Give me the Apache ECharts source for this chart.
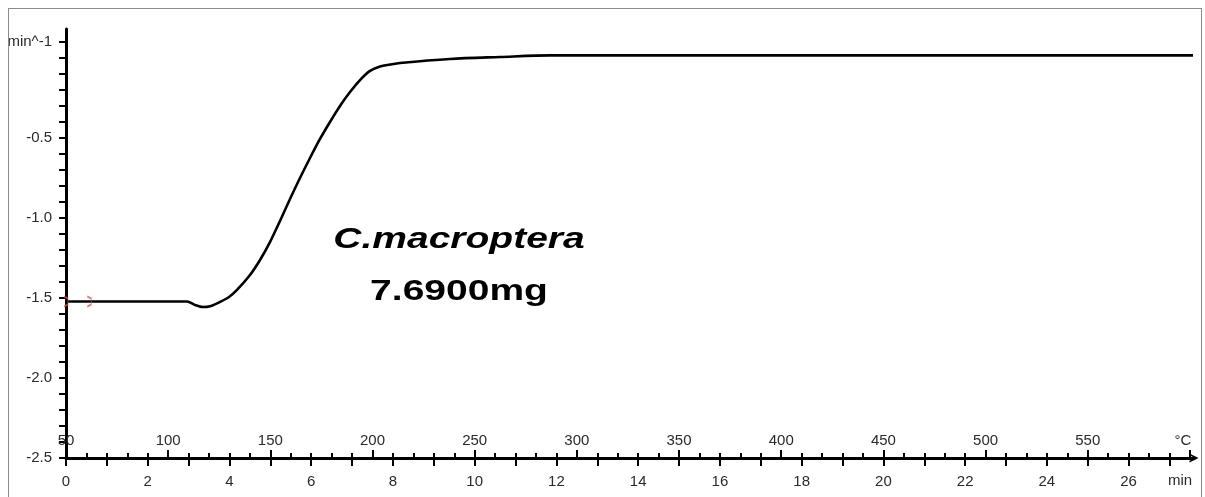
<!DOCTYPE html>
<html>
<head>
<meta charset="utf-8">
<script src="https://cdn.jsdelivr.net/npm/echarts@6/dist/echarts.min.js"></script>
<style>
  html, body { margin: 0; padding: 0; background: #fff; }
  #frame {
    position: absolute; left: 8px; top: 8px;
    width: 1192px; height: 500px;
    border: 1px solid #8c8c8c; overflow: hidden; background: #fff;
  }
  #chart { width: 1192px; height: 489px; }
</style>
</head>
<body>
<div id="frame"><div id="chart"></div></div>
<script>
// Time in minutes and the measured rate (min^-1) along the curve
const timeMin = [0, 2.96, 3.156, 3.352, 3.548, 3.768, 3.988, 4.184, 4.502, 4.747, 4.991, 5.236, 5.481, 5.725, 5.970, 6.215, 6.459, 6.704, 6.949, 7.194, 7.438, 7.683, 7.928, 8.172, 9.396, 10.619, 11.842, 13.066, 27.575];
const rate    = [-1.522, -1.522, -1.544, -1.557, -1.550, -1.525, -1.494, -1.450, -1.357, -1.263, -1.151, -1.019, -0.882, -0.751, -0.626, -0.507, -0.401, -0.301, -0.214, -0.139, -0.082, -0.054, -0.042, -0.032, -0.007, 0.005, 0.015, 0.015, 0.015];

// Cursor marks on the baseline
const cursorTime = [0, 0.57];
const cursorRate = [-1.522, -1.522];

// Axis ticks and labels
const yTicks = [-2.5, -2.4, -2.3, -2.2, -2.1, -2.0, -1.9, -1.8, -1.7, -1.6, -1.5, -1.4, -1.3, -1.2, -1.1, -1.0, -0.9, -0.8, -0.7, -0.6, -0.5, -0.4, -0.3, -0.2, -0.1, 0.0, 0.1];
const yLabels = [-2.5, -2.0, -1.5, -1.0, -0.5, 0.1];
const yUnit = 'min^-1';
const timeTicks = [0, 1, 2, 3, 4, 5, 6, 7, 8, 9, 10, 11, 12, 13, 14, 15, 16, 17, 18, 19, 20, 21, 22, 23, 24, 25, 26, 27];
const timeLabels = [0, 2, 4, 6, 8, 10, 12, 14, 16, 18, 20, 22, 24, 26];
const tempLabels = [50, 100, 150, 200, 250, 300, 350, 400, 450, 500, 550];
const tempMinorTicks = [];
for (let t = 50; t <= 600; t += 10) tempMinorTicks.push(t);
const tempMajorTicks = [50, 100, 150, 200, 250, 300, 350, 400, 450, 500, 550, 600];

const timeMax = 27.6;
const tempMin = 50, tempMax = 602;
const font = 'Liberation Sans';
const fontSize = 15;
const lblColor = '#2a2a2a';

const chart = echarts.init(document.getElementById('chart'), null, { renderer: 'canvas' });

const axisLineStyle = { color: '#000', width: 3 };
const tickStyle = { color: '#000', width: 2 };

chart.setOption({
  animation: false,
  grid: { left: 57, right: 7, top: 20, bottom: 40, containLabel: false, outerBoundsMode: 'none' },
  xAxis: [
    {
      type: 'value', min: 0, max: timeMax, position: 'bottom',
      axisLine: {
        show: true, onZero: false, lineStyle: axisLineStyle,
        symbol: ['none', 'path://M0,10 L5,0 L10,10 L8,10 L5,4 L2,10 Z'],
        symbolSize: [11, 9]
      },
      axisTick: { show: true, customValues: timeTicks, length: 8, lineStyle: tickStyle },
      axisLabel: {
        customValues: timeLabels, margin: 16, fontFamily: font, fontSize: fontSize, color: lblColor
      },
      splitLine: { show: false }
    },
    {
      type: 'value', min: tempMin, max: tempMax, position: 'bottom',
      axisLine: { show: false, onZero: false },
      axisTick: { show: true, inside: true, customValues: tempMinorTicks, length: 5, lineStyle: tickStyle },
      axisLabel: {
        inside: true, customValues: tempLabels, margin: 10,
        fontFamily: font, fontSize: fontSize, color: lblColor
      },
      splitLine: { show: false }
    },
    {
      type: 'value', min: tempMin, max: tempMax, position: 'bottom',
      axisLine: { show: false, onZero: false },
      axisTick: { show: true, inside: true, customValues: tempMajorTicks, length: 8, lineStyle: tickStyle },
      axisLabel: { show: false },
      splitLine: { show: false }
    }
  ],
  yAxis: {
    type: 'value', min: -2.5, max: 0.18, position: 'left',
    axisLine: { show: true, onZero: false, lineStyle: axisLineStyle },
    axisTick: { show: true, customValues: yTicks, length: 7, lineStyle: tickStyle },
    axisLabel: {
      customValues: yLabels, margin: 14, fontFamily: font, fontSize: fontSize, color: lblColor,
      formatter: v => (Math.abs(v - 0.1) < 1e-6 ? yUnit : v.toFixed(1))
    },
    splitLine: { show: false }
  },
  series: [
    {
      type: 'line', xAxisIndex: 0, yAxisIndex: 0,
      data: timeMin.map((t, i) => [t, rate[i]]),
      smooth: 0.3, showSymbol: false,
      lineStyle: { color: '#000', width: 2.6 }, z: 3
    },
    {
      type: 'scatter', xAxisIndex: 0, yAxisIndex: 0,
      data: cursorTime.map((t, i) => [t, cursorRate[i]]),
      symbol: 'path://M0,0 L3,2 L3,8 L0,10',
      symbolSize: [4, 10],
      itemStyle: { color: 'rgba(0,0,0,0)', borderColor: '#d9534f', borderWidth: 1.2 },
      z: 4
    }
  ],
  graphic: [
    {
      type: 'text', x: 450, y: 231, scaleX: 1.3,
      style: {
        text: 'C.macroptera', align: 'center', verticalAlign: 'middle',
        font: 'italic bold 30px "Liberation Sans"', fill: '#000'
      }
    },
    {
      type: 'text', x: 450, y: 283, scaleX: 1.3,
      style: {
        text: '7.6900mg', align: 'center', verticalAlign: 'middle',
        font: 'bold 30px "Liberation Sans"', fill: '#000'
      }
    },
    {
      type: 'text', x: 1174, y: 432,
      style: { text: '°C', align: 'center', verticalAlign: 'middle', font: '15px "Liberation Sans"', fill: lblColor }
    },
    {
      type: 'text', x: 1171, y: 472,
      style: { text: 'min', align: 'center', verticalAlign: 'middle', font: '15px "Liberation Sans"', fill: lblColor }
    }
  ]
});
</script>
</body>
</html>
